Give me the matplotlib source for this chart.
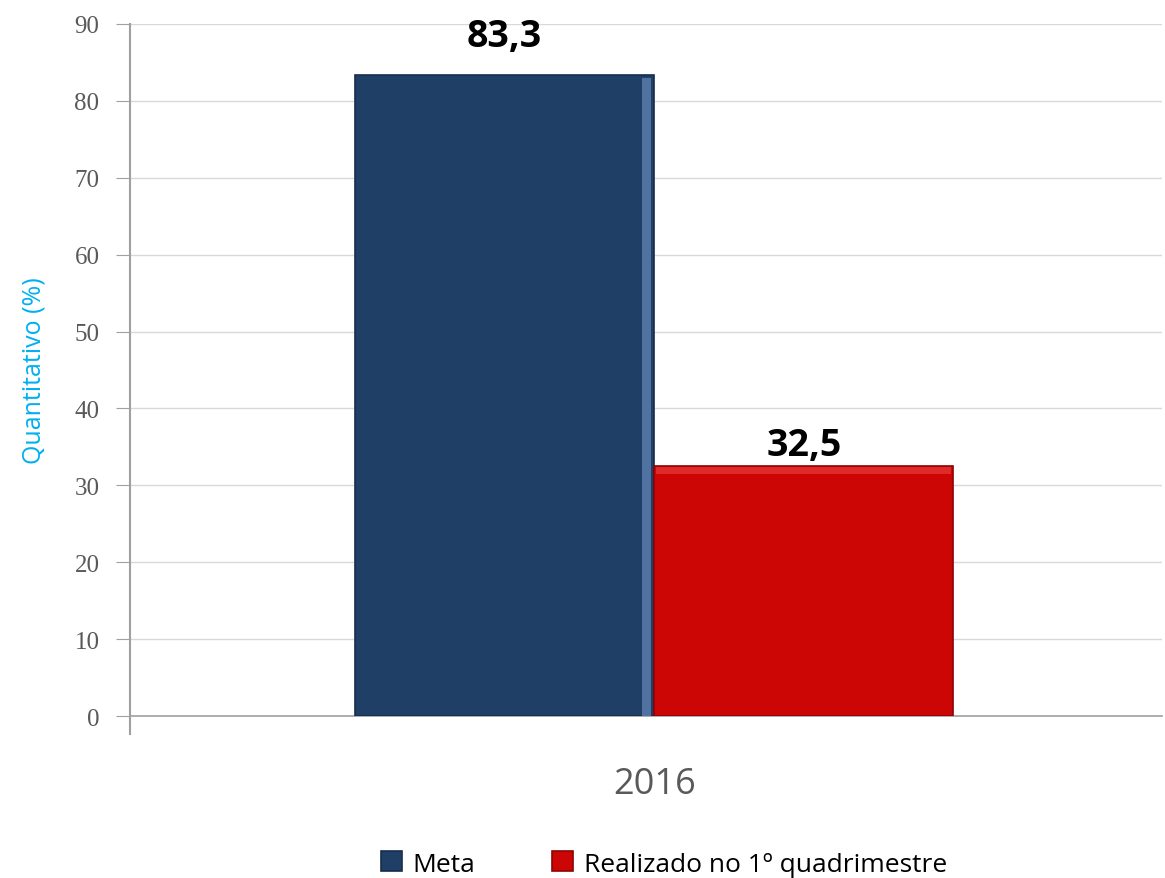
import matplotlib
matplotlib.use("Agg")
import matplotlib.pyplot as plt
import numpy as np

categories = ["2016"]
series_names = ["Meta", "Realizado no 1º quadrimestre"]
meta = [83.3]
realizado = [32.5]
value_labels = ["83,3", "32,5"]
yticks = [0, 10, 20, 30, 40, 50, 60, 70, 80, 90]

fig = plt.figure(figsize=(11.65, 8.79), dpi=100)
ax = fig.add_axes([0.1116, 0.1843, 0.8856, 0.7873])

w = 0.29
x = np.arange(len(categories))
b1 = ax.bar(x - w / 2, meta, w, color="#1F3F66", edgecolor="#162E4D", linewidth=1.2,
            label=series_names[0], zorder=3)
b2 = ax.bar(x + w / 2, realizado, w, color="#CC0505", edgecolor="#8E0303", linewidth=1.2,
            label=series_names[1], zorder=3)

# light bevel strips
r = b1[0]
ax.bar(r.get_x() + r.get_width() * 0.975, r.get_height() - 0.3, r.get_width() * 0.03,
       color="#4F72A0", zorder=4, linewidth=0)
r = b2[0]
ax.bar(r.get_x() + r.get_width() / 2, 0.9, r.get_width() * 0.985, bottom=r.get_height() - 1.05,
       color="#E02A2A", zorder=4, linewidth=0)

for bars, lab, off in zip([b1, b2], value_labels, [2.6, 0.3]):
    r = bars[0]
    ax.text(r.get_x() + r.get_width() / 2, r.get_height() + off, lab,
            ha="center", va="bottom", fontsize=27, fontweight="bold",
            color="black", family="Open Sans", zorder=5)

ax.set_xlim(-0.508, 0.492)
ax.set_ylim(0, 90)
ax.set_yticks(yticks)
ax.set_yticklabels([str(t) for t in yticks], family="Liberation Serif",
                   fontsize=18, color="#595959")
ax.tick_params(axis="y", length=10, color="#A0A0A0", pad=12)
ax.set_xticks([])
ax.grid(axis="y", color="#D9D9D9", linewidth=1, zorder=0)

for s in ["top", "right"]:
    ax.spines[s].set_visible(False)
ax.spines["left"].set_color("#A0A0A0")
ax.spines["left"].set_linewidth(1.5)
ax.spines["left"].set_bounds(-2.4, 90)
ax.spines["left"].set_clip_on(False)
ax.spines["bottom"].set_color("#A0A0A0")
ax.spines["bottom"].set_linewidth(1.2)

ax.set_ylabel("Quantitativo (%)", color="#00B0F0", fontsize=18,
              family="Open Sans", labelpad=20)

ax.text(0.0, -8.8, categories[0], ha="center", va="center", fontsize=26,
        color="#595959", family="Open Sans", transform=ax.transData)

fig.legend(handles=[b1, b2], labels=series_names, loc="center",
           bbox_to_anchor=(0.57, 0.016), ncol=2, frameon=False,
           handlelength=0.8, handleheight=0.8, handletextpad=0.4,
           columnspacing=2.9, prop={"family": "Open Sans", "size": 19})

fig.savefig("out.png", dpi=100, facecolor="white")
